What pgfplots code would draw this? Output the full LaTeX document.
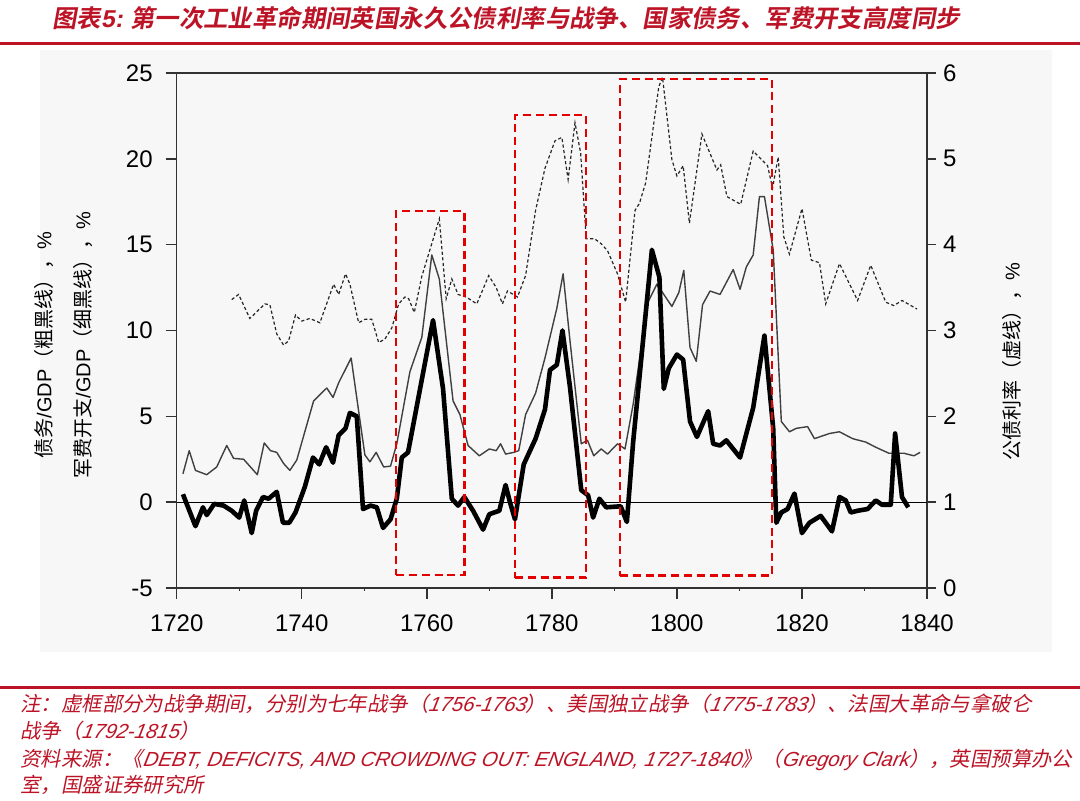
\documentclass[border=0pt]{standalone}
\usepackage{fontspec}
\usepackage{pgfplots}
\pgfplotsset{compat=1.18}
\setmainfont{Liberation Sans}
\newfontfamily\cjk[AutoFakeSlant=0.2]{Noto Sans CJK SC}
\newfontfamily\cjktitle[FakeSlant=0.18]{Noto Sans CJK SC Bold}
\newfontfamily\lattitle[FakeSlant=0.18]{Liberation Sans Bold}
\newfontfamily\latsl[FakeSlant=0.2]{Liberation Sans}
\definecolor{titlered}{RGB}{188,20,38}
\definecolor{boxred}{RGB}{228,0,0}
\definecolor{axgray}{RGB}{50,50,50}
\begin{document}
\begin{tikzpicture}
\path[use as bounding box] (0,0) rectangle (540pt,400.5pt);
\fill[black!3] (20pt,74.5pt) rectangle (526pt,375.5pt);
% title
\node[anchor=base west, inner sep=0, text=titlered, font={\cjktitle\fontsize{12.2}{14}\selectfont}] at (26pt,386.5pt) {图表{\lattitle 5:} 第一次工业革命期间英国永久公债利率与战争、国家债务、军费开支高度同步};
\draw[titlered, line width=1.5pt] (0,378.5pt) -- (540pt,378.5pt);
% right axis: bond yield (dashed)
\begin{axis}[
  at={(88.35pt,106.5pt)}, anchor=south west,
  scale only axis, width=375.15pt, height=257.5pt,
  xmin=1720, xmax=1840, ymin=0, ymax=6,
  axis x line=none, axis y line*=right,
  y axis line style={-, line width=0.7pt, axgray},
  ytick={0,1,...,6},
  tick align=outside,
  major tick length=4.5pt,
  ytick style={line width=0.7pt, axgray},
  yticklabel style={font=\fontsize{12}{14}\selectfont},
  /pgf/number format/assume math mode=true,
  ylabel={{\cjk 公债利率（虚线），}\%},
  ylabel style={at={(axis description cs:1.1133,0.439)}, anchor=center, rotate=0, font=\fontsize{10}{12}\selectfont},
]
\addplot[black!85, line width=0.6pt, dash pattern=on 1.6pt off 1.2pt] coordinates {
(1728.8,3.36) (1729.9,3.42) (1731.7,3.14) (1734.1,3.31) (1734.9,3.30) (1736,2.96)
(1737.1,2.83) (1737.9,2.88) (1739,3.18) (1740,3.11) (1741.3,3.14) (1742.9,3.09)
(1745.1,3.54) (1745.9,3.42) (1747,3.66) (1747.7,3.54) (1749.1,3.09) (1750.1,3.13)
(1751.2,3.13) (1752.3,2.86) (1753.3,2.90) (1754.4,3.03) (1755.5,3.31) (1756.5,3.39)
(1757.1,3.37) (1758,3.21) (1759.2,3.63) (1762,4.30) (1763.1,3.37) (1764,3.60)
(1765,3.42) (1766.3,3.39) (1768,3.31) (1769.9,3.64) (1771.1,3.50) (1772.1,3.31)
(1772.9,3.46) (1774.5,3.39) (1775.8,3.64) (1777.4,4.40) (1778.9,4.89) (1780.5,5.21)
(1781.6,5.25) (1782.6,4.76) (1783.7,5.42) (1784.6,5.07) (1785.5,4.07) (1786.8,4.07)
(1787.9,4.01) (1788.9,3.93) (1790.5,3.66) (1791.8,3.33) (1793.3,4.40) (1794,4.48)
(1795,4.72) (1797.1,5.84) (1797.7,5.95) (1799.2,4.99) (1800,4.80) (1801,4.92)
(1802,4.25) (1804,5.29) (1806.4,4.87) (1807,4.93) (1808,4.56) (1810.2,4.47)
(1812.2,5.09) (1814.5,4.92) (1815.3,4.66) (1816.2,5.02) (1817.1,4.09) (1818,3.89)
(1820,4.42) (1821.5,3.82) (1822.8,3.79) (1823.8,3.31) (1826,3.78) (1828.9,3.35)
(1831,3.76) (1833.4,3.33) (1834.7,3.29) (1836,3.35) (1838.4,3.25)
};
\end{axis}
% left axis
\begin{axis}[
  at={(88.35pt,106.5pt)}, anchor=south west,
  scale only axis, width=375.15pt, height=257.5pt,
  xmin=1720, xmax=1840, ymin=-5, ymax=25,
  xtick={1720,1740,...,1840}, minor xtick={1730,1750,...,1830},
  ytick={-5,0,...,25},
  xtick pos=left, ytick pos=left,
  tick align=outside,
  major tick length=5.5pt, minor tick length=1.5pt,
  axis line style={line width=0.7pt, axgray},
  every tick/.style={line width=0.7pt, axgray},
  tick label style={font=\fontsize{12}{14}\selectfont},
  xticklabel style={yshift=-4.5pt},
  yticklabel style={xshift=-3pt},
  /pgf/number format/1000 sep={},
  /pgf/number format/assume math mode=true,
  ylabel={{\cjk 债务}/GDP{\cjk （粗黑线），}\%\\{\cjk 军费开支}/GDP{\cjk （细黑线），}\%},
  ylabel style={at={(axis description cs:-0.151,0.472)}, anchor=center, align=center, font=\fontsize{10}{19.5}\selectfont},
]
\addplot[black, line width=0.6pt] coordinates {(1720,0) (1840,0)};
% military spending / GDP (thin)
\addplot[black!75, line width=0.7pt, line join=round] coordinates {
(1721,1.65) (1722,3.0) (1723,1.85) (1724.8,1.6) (1726.4,2.05) (1728,3.3) (1729.1,2.55)
(1730.7,2.5) (1732.9,1.6) (1734,3.45) (1735,3.0) (1736,2.9) (1737.1,2.25) (1738.1,1.85)
(1739.2,2.45) (1741.9,5.9) (1744,6.65) (1745,6.1) (1745.9,6.95) (1747.9,8.4) (1749.1,5.3)
(1750.1,2.75) (1750.9,2.35) (1751.9,2.9) (1753.1,2.05) (1754.2,2.1) (1755.2,3.4)
(1757.3,7.6) (1759.2,9.6) (1760.8,14.4) (1762,13.0) (1764.2,5.9) (1765.3,5.1) (1766.6,3.3)
(1768.4,2.7) (1770,3.1) (1771.1,3.0) (1771.8,3.4) (1772.6,2.8) (1773.9,2.9) (1774.7,3.0)
(1775.8,5.1) (1777.4,6.35) (1778.9,8.4) (1780.8,11.3) (1781.8,13.3) (1782.9,9.4)
(1784.7,3.4) (1785.7,3.6) (1786.7,2.7) (1787.9,3.1) (1788.9,2.8) (1790.5,3.4) (1791.7,3.1)
(1793,5.7) (1795.3,11.6) (1796.8,12.7) (1799.2,11.4) (1800.3,12.2) (1801.1,13.5)
(1802.1,9.0) (1803.1,8.2) (1804.1,11.5) (1805.3,12.3) (1806.9,12.1) (1809,13.55)
(1810.1,12.4) (1811.1,13.7) (1812.2,14.4) (1813.2,17.8) (1814,17.8) (1815.4,14.7)
(1816.7,4.7) (1818,4.1) (1819.1,4.3) (1820.9,4.4) (1822,3.7) (1824.4,4.0) (1826,4.1)
(1828.1,3.7) (1830.2,3.5) (1831.8,3.2) (1833.9,2.85) (1836.3,2.85) (1837.9,2.7) (1838.9,2.9)
};
% debt / GDP (thick)
\addplot[black, line width=2.3pt, line join=round] coordinates {
(1721,0.46) (1723,-1.4) (1724.2,-0.3) (1724.8,-0.75) (1726,-0.1) (1727.5,-0.2)
(1728.8,-0.5) (1730,-0.9) (1730.8,0.1) (1732,-1.8) (1732.7,-0.5) (1733.8,0.3)
(1734.7,0.2) (1736,0.6) (1737,-1.2) (1738,-1.2) (1739,-0.6) (1740.5,0.9) (1741.8,2.6)
(1742.8,2.2) (1743.9,3.2) (1745,2.3) (1745.9,3.9) (1747,4.3) (1747.7,5.2) (1748.8,5.0)
(1749.8,-0.4) (1751,-0.2) (1752,-0.3) (1753,-1.5) (1754.2,-1.0) (1755.2,0.2) (1756,2.6)
(1757,2.9) (1761,10.6) (1762.6,6.6) (1764,0.2) (1765,-0.2) (1766,0.3) (1767.4,-0.5)
(1769,-1.6) (1770,-0.7) (1771.6,-0.5) (1772.6,1.0) (1773.3,0.0) (1774.1,-1.0)
(1775.5,2.2) (1777.4,3.7) (1778.9,5.4) (1779.7,7.7) (1780.8,8.0) (1781.7,10.0)
(1782.9,6.7) (1784.7,0.7) (1785.8,0.4) (1786.6,-0.9) (1787.6,0.2) (1788.7,-0.3)
(1791,-0.24) (1792,-1.15) (1793,3.5) (1796,14.7) (1797.2,13.1) (1797.9,6.6)
(1798.7,7.8) (1800,8.6) (1801,8.3) (1802.1,4.7) (1803.2,3.8) (1805,5.3) (1805.8,3.4)
(1806.9,3.3) (1807.9,3.6) (1810.1,2.6) (1812.2,5.5) (1814,9.7) (1815.4,4.3)
(1815.9,-1.2) (1816.7,-0.6) (1817.7,-0.4) (1818.8,0.5) (1820,-1.8) (1821.2,-1.2)
(1823,-0.8) (1824.8,-1.7) (1826,0.3) (1827,0.1) (1827.8,-0.6) (1828.9,-0.5)
(1830.5,-0.4) (1831.8,0.1) (1832.8,-0.15) (1834.2,-0.15) (1834.9,4.0) (1836,0.3) (1837,-0.3)
};
% war periods (dashed red frames)
\addplot[boxred, line width=1.2pt, dash pattern=on 4pt off 2.4pt, line join=miter] coordinates {
(1755.1,-4.24) (1766.0,-4.24) (1766.0,16.95) (1755.1,16.95) (1755.1,-4.24)};
\addplot[boxred, line width=1.2pt, dash pattern=on 4pt off 2.4pt, line join=miter] coordinates {
(1774.1,-4.39) (1785.5,-4.39) (1785.5,22.55) (1774.1,22.55) (1774.1,-4.39)};
\addplot[boxred, line width=1.2pt, dash pattern=on 4pt off 2.4pt, line join=miter] coordinates {
(1790.9,-4.28) (1815.2,-4.28) (1815.2,24.65) (1790.9,24.65) (1790.9,-4.28)};
\end{axis}
% notes
\draw[titlered, line width=1.5pt] (0,56.5pt) -- (540pt,56.5pt);
\begin{scope}[every node/.style={anchor=base west, inner sep=0, text=titlered, font=\fontsize{10.2}{12}\selectfont}]
\node at (10pt,44.5pt) {\cjk\itshape 注：虚框部分为战争期间，分别为七年战争（{\latsl 1756-1763}）、美国独立战争（{\latsl 1775-1783}）、法国大革命与拿破仑};
\node at (10pt,31pt) {\cjk\itshape 战争（{\latsl 1792-1815}）};
\node at (10pt,17pt) {\cjk\itshape 资料来源：《{\latsl DEBT, DEFICITS, AND CROWDING OUT: ENGLAND, 1727-1840}》（{\latsl Gregory Clark}），英国预算办公};
\node at (10pt,4pt) {\cjk\itshape 室，国盛证券研究所};
\end{scope}
\end{tikzpicture}
\end{document}
